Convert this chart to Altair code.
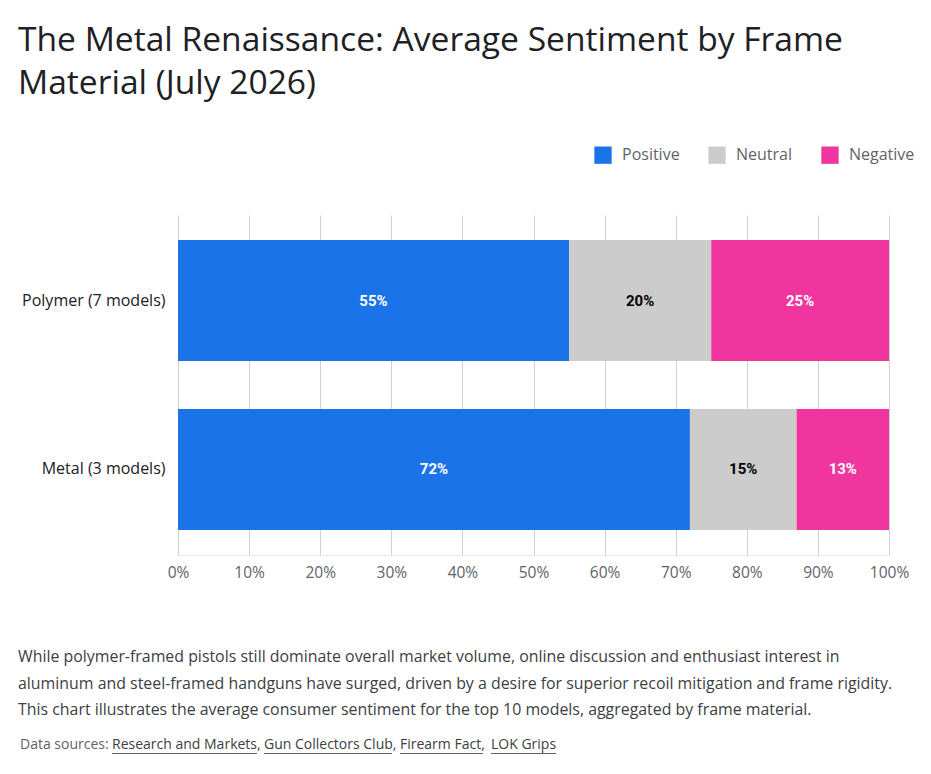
import altair as alt
import pandas as pd

materials = ["Polymer (7 models)", "Metal (3 models)"]
sentiments = ["Positive", "Neutral", "Negative"]
positive = [0.55, 0.72]
neutral = [0.20, 0.15]
negative = [0.25, 0.13]
colors = ["#1a73e8", "#cccccc", "#f0359e"]
label_colors = ["#ffffff", "#000000", "#ffffff"]

title_lines = ["The Metal Renaissance: Average Sentiment by Frame", "Material (July 2026)"]
caption_lines = [
    "While polymer-framed pistols still dominate overall market volume, online discussion and enthusiast interest in",
    "aluminum and steel-framed handguns have surged, driven by a desire for superior recoil mitigation and frame rigidity.",
    "This chart illustrates the average consumer sentiment for the top 10 models, aggregated by frame material.",
]
sources_prefix = "Data sources:"
source_names = ["Research and Markets", "Gun Collectors Club", "Firearm Fact", "LOK Grips"]

# layout of the footer (pixel offsets from the plot's left edge)
src_prefix_x = -158
src_name_x = [-66, 86, 222, 313]
src_name_end = [79, 214, 305, 378]

rows = []
for i, m in enumerate(materials):
    for j, (s, vals) in enumerate(zip(sentiments, [positive, neutral, negative])):
        rows.append({"material": m, "sentiment": s, "value": vals[i], "order": j,
                     "lc": label_colors[j]})
df = pd.DataFrame(rows)

FONT = "Open Sans"

y_enc = alt.Y("material:N", sort=materials, title=None,
              scale=alt.Scale(paddingInner=0.284, paddingOuter=0.148),
              axis=alt.Axis(domain=False, ticks=False, labelFontSize=16, labelColor="#202124",
                            labelFont=FONT, labelPadding=13))

base = alt.Chart(df).transform_stack(
    stack="value", groupby=["material"], as_=["v0", "v1"],
    sort=[alt.SortField("order", order="ascending")]
).transform_calculate(mid="(datum.v0 + datum.v1) / 2")

bars = base.mark_bar().encode(
    x=alt.X("v0:Q", title=None,
            scale=alt.Scale(domain=[0, 1]),
            axis=alt.Axis(format="%", values=[i / 10 for i in range(11)], ticks=False,
                          labelFlush=False, labelOverlap=False,
                          domainColor="#f3e3ea", gridColor="#d0d0d0", labelFontSize=15.5,
                          labelColor="#5f6368", labelFont=FONT, labelPadding=10)),
    x2="v1:Q",
    y=y_enc,
    color=alt.Color("sentiment:N", sort=sentiments,
                    scale=alt.Scale(domain=sentiments, range=colors),
                    legend=alt.Legend(title=None, orient="none", direction="horizontal",
                                      legendX=416, legendY=-69, symbolType="square",
                                      symbolSize=300, symbolStrokeWidth=0,
                                      labelFontSize=16, labelColor="#5f6368", labelFont=FONT,
                                      columnPadding=28, labelOffset=10, symbolOpacity=1)),
)

labels = base.mark_text(fontSize=15, fontWeight="bold", font="Roboto").encode(
    x="mid:Q",
    y=alt.Y("material:N", sort=materials),
    text=alt.Text("value:Q", format=".0%"),
    color=alt.Color("lc:N", scale=None),
)

one = alt.Data(values=[{}])

cap = alt.Chart(one).mark_text(
    text=caption_lines, align="left", baseline="top", fontSize=15.9, lineHeight=26.5,
    color="#3c4043", font=FONT
).encode(x=alt.value(-160), y=alt.value(434))

footer = [alt.Chart(one).mark_text(
    text=sources_prefix, align="left", baseline="middle", fontSize=14,
    color="#5f6368", font=FONT
).encode(x=alt.value(src_prefix_x), y=alt.value(530))]

for k, name in enumerate(source_names):
    txt = name + ("," if k < len(source_names) - 1 else "")
    footer.append(alt.Chart(one).mark_text(
        text=txt, align="left", baseline="middle", fontSize=14,
        color="#3c4043", font=FONT
    ).encode(x=alt.value(src_name_x[k]), y=alt.value(530)))
    footer.append(alt.Chart(one).mark_rule(color="#5f6368", strokeWidth=1).encode(
        x=alt.value(src_name_x[k]), x2=alt.value(src_name_end[k]), y=alt.value(538.5)))

chart = alt.layer(bars, labels, cap, *footer).properties(
    width=711, height=340,
    title=alt.Title(title_lines, anchor="start", frame="group", fontSize=33.6, font=FONT,
                    fontWeight="normal", color="#202124", lineHeight=43.5, dx=-160,
                    offset=45),
    padding={"left": 170, "top": 207, "right": 34, "bottom": 211},
    autosize=alt.AutoSizeParams(type="none"),
).configure_view(stroke=None)

chart.save("out.html", embed_options={"renderer": "svg", "actions": False})
